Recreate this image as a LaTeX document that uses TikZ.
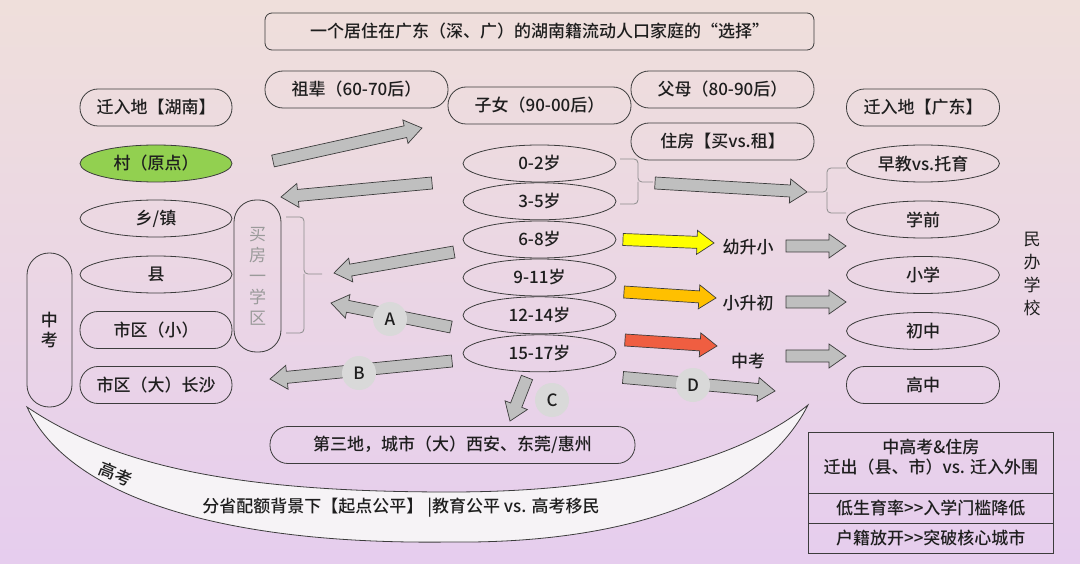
\documentclass[tikz,border=0pt]{standalone}
\usepackage{fontspec}
\setmainfont{Noto Sans CJK SC}[UprightFont=* Medium]
\newfontfamily\regcjk{Noto Sans CJK SC}
\usetikzlibrary{calc,shapes.geometric}
\definecolor{bgtop}{HTML}{EFDFDB}
\definecolor{bgbot}{HTML}{E6CDEE}
\definecolor{edge}{HTML}{3C3C3C}
\definecolor{arrgray}{HTML}{BFBFBF}
\definecolor{circgray}{HTML}{D9D9D9}
\definecolor{greenfill}{HTML}{92D050}
\definecolor{yel}{HTML}{FFFF00}
\definecolor{org}{HTML}{FFC000}
\definecolor{redarr}{HTML}{EF5E41}
\definecolor{bracegray}{HTML}{8C8C8C}
\definecolor{txt}{HTML}{1E1E1E}
\definecolor{lighttxt}{HTML}{9A9A9A}
\definecolor{moonfill}{HTML}{F6F3F6}
\newcommand{\blockarrow}[3][arrgray]{%
  \coordinate (bah) at ($(#3)!17pt!(#2)$);
  \filldraw[fill=#1, draw=edge, line width=0.7pt, line join=miter]
    ($(#2)!6pt!90:(#3)$) -- ($(bah)!6pt!90:(#3)$) -- ($(bah)!12pt!90:(#3)$) -- (#3)
    -- ($(bah)!12pt!-90:(#3)$) -- ($(bah)!6pt!-90:(#3)$) -- ($(#2)!6pt!-90:(#3)$) -- cycle;
}
\tikzset{
  every node/.style={text=txt, font=\fontsize{17}{20}\selectfont},
  pill/.style={draw=edge, line width=0.8pt, rectangle, rounded corners=18pt, minimum height=37pt, inner sep=0pt},
  oval/.style={draw=edge, line width=0.8pt, ellipse, minimum height=37pt, inner sep=0pt},
  vpill/.style={draw=edge, line width=0.8pt, rectangle, rounded corners=22pt, inner sep=0pt},
  badge/.style={circle, fill=circgray, minimum size=34pt, inner sep=0pt},
  bracepath/.style={draw=bracegray, line width=0.8pt, rounded corners=4pt},
  plain/.style={inner sep=0pt},
  cell/.style={draw=edge, line width=0.8pt, rectangle, minimum width=244.4pt, inner sep=0pt}
}
\begin{document}
\begin{tikzpicture}[x=1pt,y=-1pt]
\useasboundingbox (0,0) rectangle (1080,564);
\shade[top color=bgtop, bottom color=bgbot] (0,0) rectangle (1080,564);

% crescent banner
\filldraw[fill=moonfill, draw=edge, line width=0.8pt]
  (27,407) .. controls (120,470) and (250,492) .. (450,492)
  .. controls (620,492) and (740,460) .. (808,405)
  .. controls (760,500) and (620,544) .. (450,542)
  .. controls (230,545) and (70,500) .. (27,407) -- cycle;
\node[plain, rotate=-22] (gk) at (116,474) {高考};
\node[plain] (fair) at (401,508) {分省配额背景下【起点公平】 |教育公平 vs. 高考移民};

% title and headers
\node[pill, minimum width=549pt, rounded corners=7pt] (title) at (539.5,31.5) {一个居住在广东（深、广）的湖南籍流动人口家庭的“选择”};
\node[pill, minimum width=183pt] (zubei) at (356.5,89.5) {祖辈（60-70后）};
\node[pill, minimum width=183pt] (zinv) at (539.5,105.5) {子女（90-00后）};
\node[pill, minimum width=183pt] (fumu) at (722.5,89.5) {父母（80-90后）};
\node[pill, minimum width=183pt] (zhufang) at (722.5,141.5) {住房【买vs.租】};
\node[pill, minimum width=152pt] (hunan) at (156,107.5) {迁入地【湖南】};
\node[pill, minimum width=153pt] (gd) at (923,107.5) {迁入地【广东】};

% left column
\node[oval, fill=greenfill, minimum width=152pt] (cun) at (156,163.5) {村（原点）};
\node[oval, minimum width=152pt] (xiang) at (156,218.5) {乡/镇};
\node[oval, minimum width=152pt] (xian) at (156,274.5) {县};
\node[pill, minimum width=152pt] (shixiao) at (156,330) {市区（小）};
\node[pill, minimum width=152pt] (shida) at (156,385) {市区（大）长沙};
\node[vpill, minimum width=45pt, minimum height=154pt, align=center] (zkleft) at (49.5,330) {中\\考};
\node[vpill, minimum width=47pt, minimum height=152pt, align=center, text=lighttxt,
      font=\regcjk\fontsize{17}{21}\selectfont] (xuequ) at (257.5,276) {买\\房\\一\\学\\区};

% middle column
\node[oval, minimum width=153pt] (a02) at (539.5,163.5) {0-2岁};
\node[oval, minimum width=153pt] (a35) at (539.5,201.3) {3-5岁};
\node[oval, minimum width=153pt] (a68) at (539.5,239.5) {6-8岁};
\node[oval, minimum width=153pt] (a911) at (539.5,277.5) {9-11岁};
\node[oval, minimum width=153pt] (a1214) at (539.5,315.3) {12-14岁};
\node[oval, minimum width=153pt] (a1517) at (539.5,353.3) {15-17岁};

% right column
\node[oval, minimum width=153pt] (zaojiao) at (923,163.5) {早教vs.托育};
\node[oval, minimum width=153pt] (xueqian) at (923,219.5) {学前};
\node[oval, minimum width=153pt] (xiaoxue) at (923,275) {小学};
\node[oval, minimum width=153pt] (chuzhong) at (923,331) {初中};
\node[pill, minimum width=153pt] (gaozhong) at (923,385) {高中};
\node[plain, align=center, font=\regcjk\fontsize{17}{23}\selectfont] (minban) at (1032,274) {民\\办\\学\\校};

% transition labels
\node[plain] (ysx) at (748,247) {幼升小};
\node[plain] (xsc) at (748,303) {小升初};
\node[plain] (zkmid) at (748,361) {中考};

\node[pill, minimum width=365pt] (third) at (452.5,445) {第三地，城市（大）西安、东莞/惠州};

% braces
\coordinate (bl1) at (286,217); \coordinate (bl2) at (304,217); \coordinate (blm) at (304,274);
\coordinate (blt) at (322,274); \coordinate (bl3) at (304,333); \coordinate (bl4) at (286,333);
\draw[bracepath] (bl1) -- (bl2) -- (blm) -- (blt);
\draw[bracepath] (blm) -- (bl3) -- (bl4);
\coordinate (bm1) at (620,159); \coordinate (bm2) at (638,159); \coordinate (bmm) at (638,182);
\coordinate (bmt) at (653,182); \coordinate (bm3) at (638,204); \coordinate (bm4) at (620,204);
\draw[bracepath] (bm1) -- (bm2) -- (bmm) -- (bmt);
\draw[bracepath] (bmm) -- (bm3) -- (bm4);
\coordinate (br1) at (846,168); \coordinate (br2) at (827,168); \coordinate (brm) at (827,192);
\coordinate (brt) at (808,192); \coordinate (br3) at (827,213); \coordinate (br4) at (846,213);
\draw[bracepath] (br1) -- (br2) -- (brm) -- (brt);
\draw[bracepath] (brm) -- (br3) -- (br4);

% arrows
\coordinate (t1) at (273,161); \coordinate (h1) at (422,128);
\coordinate (t2) at (432,183); \coordinate (h2) at (281,197);
\coordinate (t3) at (454,252); \coordinate (h3) at (334,273);
\coordinate (t4) at (451,327); \coordinate (h4) at (331,303);
\coordinate (t5) at (452,361); \coordinate (h5) at (270,379);
\coordinate (t6) at (527,377.5); \coordinate (h6) at (510,421);
\coordinate (t7) at (655,183); \coordinate (h7) at (807,192);
\coordinate (ty) at (623,239.5); \coordinate (hy) at (714,243);
\coordinate (to) at (624,292); \coordinate (ho) at (716,298);
\coordinate (tr) at (625,340); \coordinate (hr) at (717,346);
\coordinate (td) at (623,377.5); \coordinate (hd) at (775,391);
\coordinate (tg1) at (786,246); \coordinate (hg1) at (846,246);
\coordinate (tg2) at (786,302); \coordinate (hg2) at (846,302);
\coordinate (tg3) at (786,356); \coordinate (hg3) at (846,356);
\blockarrow{t1}{h1}
\blockarrow{t2}{h2}
\blockarrow{t3}{h3}
\blockarrow{t4}{h4}
\blockarrow{t5}{h5}
\blockarrow{t6}{h6}
\blockarrow{t7}{h7}
\blockarrow[yel]{ty}{hy}
\blockarrow[org]{to}{ho}
\blockarrow[redarr]{tr}{hr}
\blockarrow{td}{hd}
\blockarrow{tg1}{hg1}
\blockarrow{tg2}{hg2}
\blockarrow{tg3}{hg3}

% badges
\node[badge] (bA) at (390,319) {A};
\node[badge] (bB) at (359,373) {B};
\node[badge] (bC) at (552,400) {C};
\node[badge] (bD) at (693,385) {D};

% right info box
\node[cell, minimum height=61pt] (c1) at (930.8,462.5) {};
\node[cell, minimum height=30pt] (c2) at (930.8,508) {};
\node[cell, minimum height=30pt] (c3) at (930.8,538) {};
\node[plain, align=center] (c1t) at (930.8,457) {中高考\&住房\\迁出（县、市）vs. 迁入外围};
\node[plain] (c2t) at (930.8,508) {低生育率>\kern0pt>入学门槛降低};
\node[plain] (c3t) at (930.8,538) {户籍放开>\kern0pt>突破核心城市};
\end{tikzpicture}
\end{document}
